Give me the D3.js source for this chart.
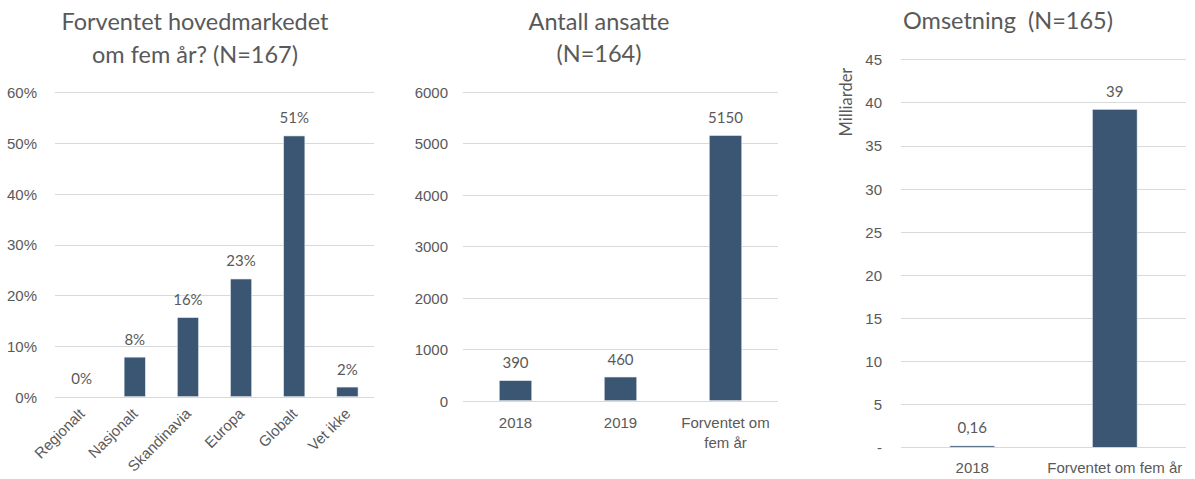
<!DOCTYPE html>
<html>
<head>
<meta charset="utf-8">
<script src="https://cdn.jsdelivr.net/npm/d3@7"></script>
<style>
  html, body { margin: 0; padding: 0; background: #fff; }
  svg { display: block; font-family: Lato, "Open Sans", sans-serif; }
  .grid line { stroke: #d9d9d9; stroke-width: 1; }
  .tick-label, .val-label, .cat-label { fill: #595959; font-size: 15px; }
  .title { fill: #595959; font-size: 23.5px; white-space: pre; }
</style>
</head>
<body>
<svg id="chart" width="1195" height="479"></svg>
<script>
// Panel 1: expected main market in five years
const marketCategories = ["Regionalt", "Nasjonalt", "Skandinavia", "Europa", "Globalt", "Vet ikke"];
const marketValues = [0, 0.078, 0.156, 0.232, 0.514, 0.019];
const marketTicks = [0, 0.1, 0.2, 0.3, 0.4, 0.5, 0.6];
const marketTitle = ["Forventet hovedmarkedet", "om fem år? (N=167)"];

// Panel 2: number of employees
const staffCategories = ["2018", "2019", "Forventet om fem år"];
const staffValues = [390, 460, 5150];
const staffTicks = [0, 1000, 2000, 3000, 4000, 5000, 6000];
const staffTitle = ["Antall ansatte", "(N=164)"];

// Panel 3: turnover, in billions
const revenueCategories = ["2018", "Forventet om fem år"];
const revenueValues = [0.16, 39.2];
const revenueTicks = [0, 5, 10, 15, 20, 25, 30, 35, 40, 45];
const revenueTitle = ["Omsetning  (N=165)"];
const revenueAxisTitle = "Milliarder";

const BAR = "#3a5673";
const svg = d3.select("#chart");

const no = d3.formatLocale({ decimal: ",", thousands: "\u00a0", grouping: [3], currency: ["", " kr"] });

function panel(opts) {
  const g = svg.append("g");
  const x = d3.scaleBand().domain(opts.categories).range(opts.xRange).paddingInner(opts.pad).paddingOuter(opts.pad / 2);
  const y = d3.scaleLinear().domain(opts.yDomain).range(opts.yRange);

  // gridlines
  g.append("g").attr("class", "grid")
    .selectAll("line").data(opts.ticks).join("line")
    .attr("x1", opts.xRange[0]).attr("x2", opts.xRange[1])
    .attr("y1", d => Math.round(y(d)) + 0.5).attr("y2", d => Math.round(y(d)) + 0.5);

  // y axis labels
  const yAxis = d3.axisLeft(y).tickValues(opts.ticks).tickFormat(opts.tickFormat).tickSize(0).tickPadding(0);
  const ya = g.append("g").attr("transform", `translate(${opts.yLabelX},0)`).call(yAxis);
  ya.select(".domain").remove();
  ya.selectAll("text").attr("class", "tick-label").attr("fill", null).attr("font-size", null).attr("font-family", null)
    .attr("dy", "0.36em");

  // bars
  g.selectAll("rect.bar").data(opts.values).join("rect")
    .attr("class", "bar")
    .attr("x", (d, i) => x(opts.categories[i]))
    .attr("width", x.bandwidth())
    .attr("y", d => y(d))
    .attr("height", d => y(0) - y(d))
    .attr("fill", BAR)
    .attr("stroke", d => d > 0 ? "#e8ecf0" : "none")
    .attr("stroke-width", 0.6);

  // value labels
  g.selectAll("text.val-label").data(opts.values).join("text")
    .attr("class", "val-label")
    .attr("text-anchor", "middle")
    .attr("x", (d, i) => x(opts.categories[i]) + x.bandwidth() / 2)
    .attr("y", d => y(d) - 12.5)
    .text(opts.valueFormat);

  // category labels
  const xAxis = d3.axisBottom(x).tickSize(0).tickPadding(0);
  const xa = g.append("g").attr("transform", `translate(0,${opts.yRange[0]})`).call(xAxis);
  xa.select(".domain").remove();
  xa.selectAll("text").attr("class", "cat-label").attr("fill", null).attr("font-size", null).attr("font-family", null);
  opts.catStyle(xa.selectAll(".tick text"));

  // title
  const t = g.append("text").attr("class", "title").attr("text-anchor", "middle")
    .attr("x", opts.titleX).attr("y", opts.titleY);
  opts.title.forEach((line, i) => {
    t.append("tspan").attr("x", opts.titleX).attr("dy", i === 0 ? 0 : opts.titleGap).text(line);
  });
  return { g, x, y };
}

// Panel 1
panel({
  categories: marketCategories, values: marketValues, ticks: marketTicks,
  xRange: [55, 374], yDomain: [0, 0.6], yRange: [396.7, 92.3], pad: 0.6,
  yLabelX: 37, tickFormat: d3.format(".0%"), valueFormat: d3.format(".0%"),
  title: marketTitle, titleX: 195, titleY: 30, titleGap: 33,
  catStyle: sel => sel
    .attr("text-anchor", "end")
    .attr("dy", null).attr("y", 0)
    .attr("transform", "translate(4,18) rotate(-45)")
});

// Panel 2
panel({
  categories: staffCategories, values: staffValues, ticks: staffTicks,
  xRange: [463, 778], yDomain: [0, 6000], yRange: [400.7, 91.7], pad: 0.69,
  yLabelX: 448, tickFormat: d3.format("d"), valueFormat: d3.format("d"),
  title: staffTitle, titleX: 599, titleY: 30, titleGap: 32,
  catStyle: sel => {
    sel.attr("y", 27.5).attr("dy", null);
    sel.each(function(d) {
      const el = d3.select(this);
      if (d === "Forventet om fem år") {
        el.text(null);
        el.append("tspan").attr("x", 0).attr("dy", 0).text("Forventet om");
        el.append("tspan").attr("x", 0).attr("dy", 20).text("fem år");
      }
    });
  }
});

// Panel 3
const p3 = panel({
  categories: revenueCategories, values: revenueValues, ticks: revenueTicks,
  xRange: [901, 1186], yDomain: [0, 45], yRange: [447.3, 59.3], pad: 0.686,
  yLabelX: 882, tickFormat: d => d === 0 ? "-" : no.format("d")(d),
  valueFormat: d => d < 1 ? no.format(".2f")(d) : no.format(".0f")(d),
  title: revenueTitle, titleX: 1008, titleY: 29, titleGap: 32,
  catStyle: sel => sel.attr("y", 26).attr("dy", null)
});

p3.g.append("text")
  .attr("class", "tick-label")
  .attr("text-anchor", "middle")
  .attr("transform", "translate(852,102) rotate(-90)")
  .style("font-size", "16.5px")
  .text(revenueAxisTitle);
</script>
</body>
</html>
